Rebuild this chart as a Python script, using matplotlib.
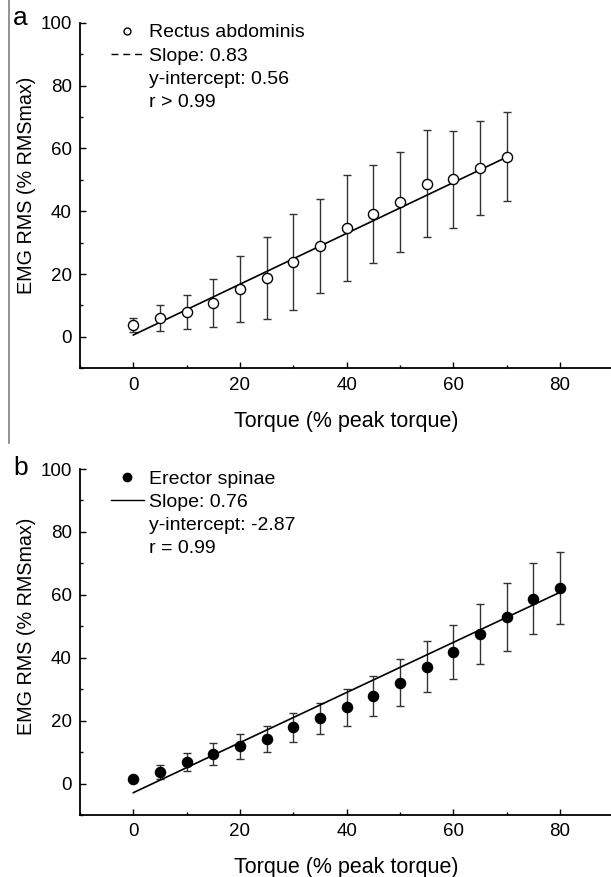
import matplotlib
matplotlib.use("Agg")
import matplotlib.pyplot as plt
from matplotlib.lines import Line2D
from matplotlib.ticker import MultipleLocator

plt.rcParams['font.family'] = ['Liberation Sans', 'DejaVu Sans']

# ---- data ----
torque_a = [0, 5, 10, 15, 20, 25, 30, 35, 40, 45, 50, 55, 60, 65, 70]
emg_a = [3.7, 6.0, 7.9, 10.8, 15.2, 18.8, 23.9, 28.9, 34.7, 39.2, 42.9, 48.8, 50.1, 53.8, 57.4]
err_a = [2.3, 4.0, 5.4, 7.7, 10.4, 13.1, 15.2, 15.0, 16.8, 15.6, 16.0, 16.9, 15.3, 15.0, 14.3]
fit_x_a = [0, 70]
fit_y_a = [0.6, 57.2]

torque_b = [0, 5, 10, 15, 20, 25, 30, 35, 40, 45, 50, 55, 60, 65, 70, 75, 80]
emg_b = [1.6, 3.7, 6.8, 9.4, 11.8, 14.2, 17.9, 20.7, 24.2, 27.9, 32.1, 37.2, 41.8, 47.5, 52.9, 58.7, 62.2]
err_b = [0.6, 2.2, 2.9, 3.5, 4.0, 4.2, 4.6, 5.0, 6.0, 6.3, 7.6, 8.2, 8.7, 9.6, 10.8, 11.3, 11.4]
fit_x_b = [0, 80]
fit_y_b = [-2.9, 60.8]

legend_a = ["Rectus abdominis", "Slope: 0.83", "y-intercept: 0.56", "r > 0.99"]
legend_b = ["Erector spinae", "Slope: 0.76", "y-intercept: -2.87", "r = 0.99"]
xlabel = "Torque (% peak torque)"
ylabel = "EMG RMS (% RMSmax)"
x_ticks = [0, 20, 40, 60, 80]
y_ticks = [0, 20, 40, 60, 80, 100]

W, H = 611, 877
fig = plt.figure(figsize=(W / 100, H / 100), dpi=100)

def make_axes(top_px, bottom_px):
    left_px, right_px = 80, 613.3
    return fig.add_axes([left_px / W, 1 - bottom_px / H,
                         (right_px - left_px) / W, (bottom_px - top_px) / H])

ax_a = make_axes(22.7, 368.3)
ax_b = make_axes(469.0, 815.0)

def style(ax, ylab_y, xlab_y):
    ax.set_xlim(-10, 90)
    ax.set_ylim(-10, 100)
    for s in ['top', 'right']:
        ax.spines[s].set_visible(False)
    for s in ['left', 'bottom']:
        ax.spines[s].set_linewidth(1.3)
    ax.set_xticks(x_ticks)
    ax.set_yticks(y_ticks)
    ax.xaxis.set_minor_locator(MultipleLocator(10))
    ax.yaxis.set_minor_locator(MultipleLocator(10))
    ax.tick_params(which='major', direction='in', length=4.5, width=1.0,
                   labelsize=13.5, pad=6.0)
    ax.tick_params(which='minor', direction='in', length=2.3, width=1.0)
    ax.set_xlabel(xlabel, fontsize=15.5)
    ax.set_ylabel(ylabel, fontsize=14.2)
    ax.yaxis.set_label_coords(-0.083, ylab_y)
    ax.xaxis.set_label_coords(0.5, xlab_y)

style(ax_a, 0.53, -0.125)
style(ax_b, 0.545, -0.12)

# panel a
ax_a.errorbar(torque_a, emg_a, yerr=err_a, fmt='none', ecolor='#333333',
              elinewidth=1.0, capsize=3, capthick=1.0, zorder=2)
ax_a.plot(fit_x_a, fit_y_a, color='black', lw=1.2, zorder=3)
ax_a.plot(torque_a, emg_a, 'o', ms=7.3, mfc='white', mec='black', mew=1.0, zorder=4)

# panel b
ax_b.errorbar(torque_b, emg_b, yerr=err_b, fmt='none', ecolor='#333333',
              elinewidth=1.0, capsize=3, capthick=1.0, zorder=2)
ax_b.plot(fit_x_b, fit_y_b, color='black', lw=1.2, zorder=3)
ax_b.plot(torque_b, emg_b, 'o', ms=7.3, mfc='black', mec='black', zorder=4)

blank = Line2D([], [], linestyle='none')
h_a = [Line2D([], [], linestyle='none', marker='o', ms=5, mfc='white', mec='black', mew=1.0),
       Line2D([], [], linestyle=(0, (5, 3.5)), color='black', lw=1.0), blank, blank]
h_b = [Line2D([], [], linestyle='none', marker='o', ms=6, mfc='black', mec='black'),
       Line2D([], [], linestyle='-', color='black', lw=1.0), blank, blank]

for ax, hs, labs in [(ax_a, h_a, legend_a), (ax_b, h_b, legend_b)]:
    ax.legend(hs, labs, loc='upper left', bbox_to_anchor=(0.058, 0.997),
              frameon=False, fontsize=14, handlelength=1.7,
              handletextpad=0.27, labelspacing=0.29, borderpad=0,
              borderaxespad=0, numpoints=1)

# panel letters
fig.text(13 / W, 1 - 25 / H, 'a', fontsize=19, ha='left', va='baseline')
fig.text(13 / W, 1 - 475 / H, 'b', fontsize=19, ha='left', va='baseline')

# left border line of panel a
fig.add_artist(Line2D([9 / W, 9 / W], [1.0, 1 - 443 / H], color='#808080',
                      lw=1.2, transform=fig.transFigure))

fig.savefig('out.png', dpi=100)
